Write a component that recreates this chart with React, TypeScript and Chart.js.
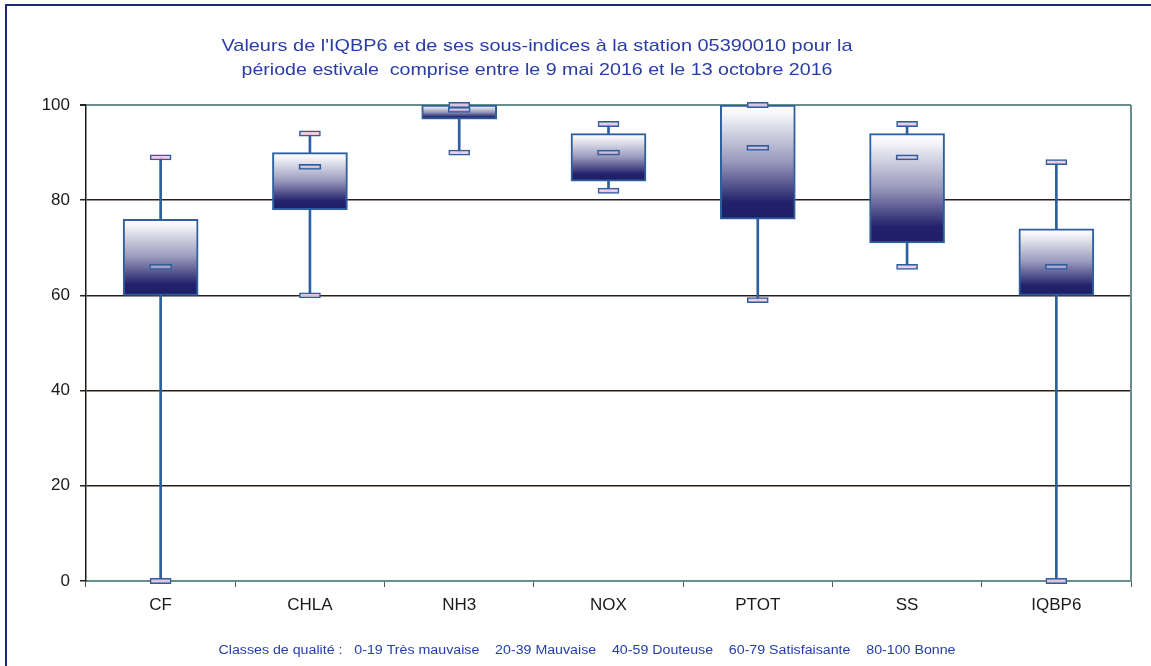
import React, { useEffect, useRef } from "react";
import { Chart, registerables } from "chart.js";

Chart.register(...registerables);

const categories = ["CF", "CHLA", "NH3", "NOX", "PTOT", "SS", "IQBP6"];
const minValues = [0, 60, 90, 82, 59, 66, 0];
const q1Values = [60, 78, 97, 84, 76, 71, 60];
const medianValues = [66, 87, 99, 90, 91, 89, 66];
const q3Values = [76, 90, 100, 94, 100, 94, 74];
const maxValues = [89, 94, 100, 96, 100, 96, 88];
const yTicks = [0, 20, 40, 60, 80, 100];

const titleLines = [
  "Valeurs de l'IQBP6 et de ses sous-indices à la station 05390010 pour la",
  "période estivale  comprise entre le 9 mai 2016 et le 13 octobre 2016",
];
const footerText =
  "Classes de qualité :   0-19 Très mauvaise    20-39 Mauvaise    40-59 Douteuse    60-79 Satisfaisante    80-100 Bonne";

const FONT = "'Liberation Sans', Arial, sans-serif";
const BORDER_BLUE = "#2d5f9e";
const TEAL = "#6a8e90";
const GRID_DARK = "#2a1c16";
const MARK_HALF = 0.55;

function fitText(ctx: CanvasRenderingContext2D, text: string, cx: number, cy: number, width: number) {
  const w = ctx.measureText(text).width;
  ctx.save();
  ctx.translate(cx, cy);
  ctx.scale(width / w, 1);
  ctx.textAlign = "center";
  ctx.textBaseline = "middle";
  ctx.fillText(text, 0, 0);
  ctx.restore();
}

const decorPlugin = {
  id: "decor",
  afterDraw(chart: any) {
    const { ctx, chartArea } = chart;
    ctx.save();
    ctx.strokeStyle = TEAL;
    ctx.lineWidth = 2;
    ctx.beginPath();
    ctx.moveTo(chartArea.right, chartArea.top);
    ctx.lineTo(chartArea.right, chartArea.bottom);
    ctx.stroke();
    ctx.fillStyle = "#2a3ca6";
    ctx.font = `17px ${FONT}`;
    fitText(ctx, titleLines[0], 537, 46, 631);
    fitText(ctx, titleLines[1], 537, 70, 591);
    ctx.fillStyle = "#2440a8";
    ctx.font = `12.5px ${FONT}`;
    fitText(ctx, footerText, 587, 651, 737);
    ctx.restore();
  },
};

function boxGradient(c: any) {
  const chart = c.chart;
  const y = chart.scales && chart.scales.y;
  if (!y || c.type !== "data") return "#ffffff";
  const i = c.dataIndex;
  const top = y.getPixelForValue(q3Values[i]);
  const bot = y.getPixelForValue(q1Values[i]);
  if (!isFinite(top) || !isFinite(bot) || top === bot) return "#ffffff";
  const g = chart.ctx.createLinearGradient(0, top, 0, bot);
  g.addColorStop(0, "#ffffff");
  g.addColorStop(0.08, "#f6f6fa");
  g.addColorStop(0.5, "#9898bc");
  g.addColorStop(0.85, "#22226c");
  g.addColorStop(1, "#1e1e68");
  return g;
}

export default function App() {
  const ref = useRef<HTMLCanvasElement | null>(null);

  useEffect(() => {
    if (!ref.current) return;
    const markStyle = {
      borderColor: BORDER_BLUE,
      borderWidth: 1.5,
      borderSkipped: false,
      grouped: false,
      clip: false,
    };
    const chart = new Chart(ref.current, {
      type: "bar",
      data: {
        labels: categories,
        datasets: [
          {
            label: "whisker",
            data: categories.map((_, i) => [minValues[i], maxValues[i]]),
            backgroundColor: BORDER_BLUE,
            borderWidth: 0,
            barThickness: 2,
            grouped: false,
            order: 4,
            clip: false,
          } as any,
          {
            label: "box",
            data: categories.map((_, i) => [q1Values[i], q3Values[i]]),
            backgroundColor: boxGradient,
            borderColor: BORDER_BLUE,
            borderWidth: 2,
            borderSkipped: false,
            barThickness: 75,
            grouped: false,
            order: 3,
            clip: false,
          } as any,
          {
            label: "min",
            data: categories.map((_, i) => [minValues[i] - MARK_HALF, minValues[i] + MARK_HALF]),
            backgroundColor: "rgba(240,205,228,0.9)",
            barThickness: 21,
            order: 2,
            ...markStyle,
          } as any,
          {
            label: "max",
            data: categories.map((_, i) => [maxValues[i] - MARK_HALF, maxValues[i] + MARK_HALF]),
            backgroundColor: "rgba(240,205,228,0.9)",
            barThickness: 21,
            order: 2,
            ...markStyle,
          } as any,
          {
            label: "median",
            data: categories.map((_, i) => [medianValues[i] - MARK_HALF, medianValues[i] + MARK_HALF]),
            backgroundColor: "rgba(235,200,225,0.55)",
            barThickness: 22,
            order: 1,
            ...markStyle,
          } as any,
        ],
      },
      options: {
        responsive: false,
        animation: false,
        layout: { padding: { left: 0, right: 20, top: 105, bottom: 0 } },
        plugins: {
          legend: { display: false },
          tooltip: { enabled: false },
          title: { display: false },
        },
        scales: {
          x: {
            offset: true,
            grid: {
              offset: true,
              drawOnChartArea: false,
              drawTicks: true,
              tickLength: 6,
              tickColor: "#555",
            },
            border: { color: TEAL, width: 2 },
            ticks: {
              color: "#1a1a1a",
              font: { family: FONT, size: 17 },
              padding: 8,
            },
            afterFit: (s: any) => {
              s.height = 85;
            },
          },
          y: {
            min: 0,
            max: 100,
            afterBuildTicks: (s: any) => {
              s.ticks = yTicks.map((v) => ({ value: v }));
            },
            grid: {
              color: (c: any) =>
                c.tick && (c.tick.value === 100 || c.tick.value === 0) ? TEAL : GRID_DARK,
              lineWidth: (c: any) => (c.tick && c.tick.value === 100 ? 2 : 1.5),
              tickColor: "#222",
              tickLength: 6,
            },
            border: { color: "#1a1a1a", width: 1.5 },
            ticks: {
              color: "#1a1a1a",
              font: { family: FONT, size: 17 },
              padding: 10,
            },
            afterFit: (s: any) => {
              s.width = 86;
            },
          },
        },
      },
      plugins: [decorPlugin],
    });
    return () => chart.destroy();
  }, []);

  return (
    <div style={{ position: "absolute", left: 0, top: 0, width: 1151, height: 666, background: "#ffffff" }}>
      <canvas ref={ref} width={1151} height={666} style={{ position: "absolute", left: 0, top: 0 }} />
      <div
        style={{
          position: "absolute",
          left: 5,
          top: 4,
          width: 1146,
          height: 662,
          borderTop: "2px solid #1c2a70",
          borderLeft: "2px solid #1c2a70",
          boxSizing: "border-box",
          pointerEvents: "none",
        }}
      />
    </div>
  );
}
